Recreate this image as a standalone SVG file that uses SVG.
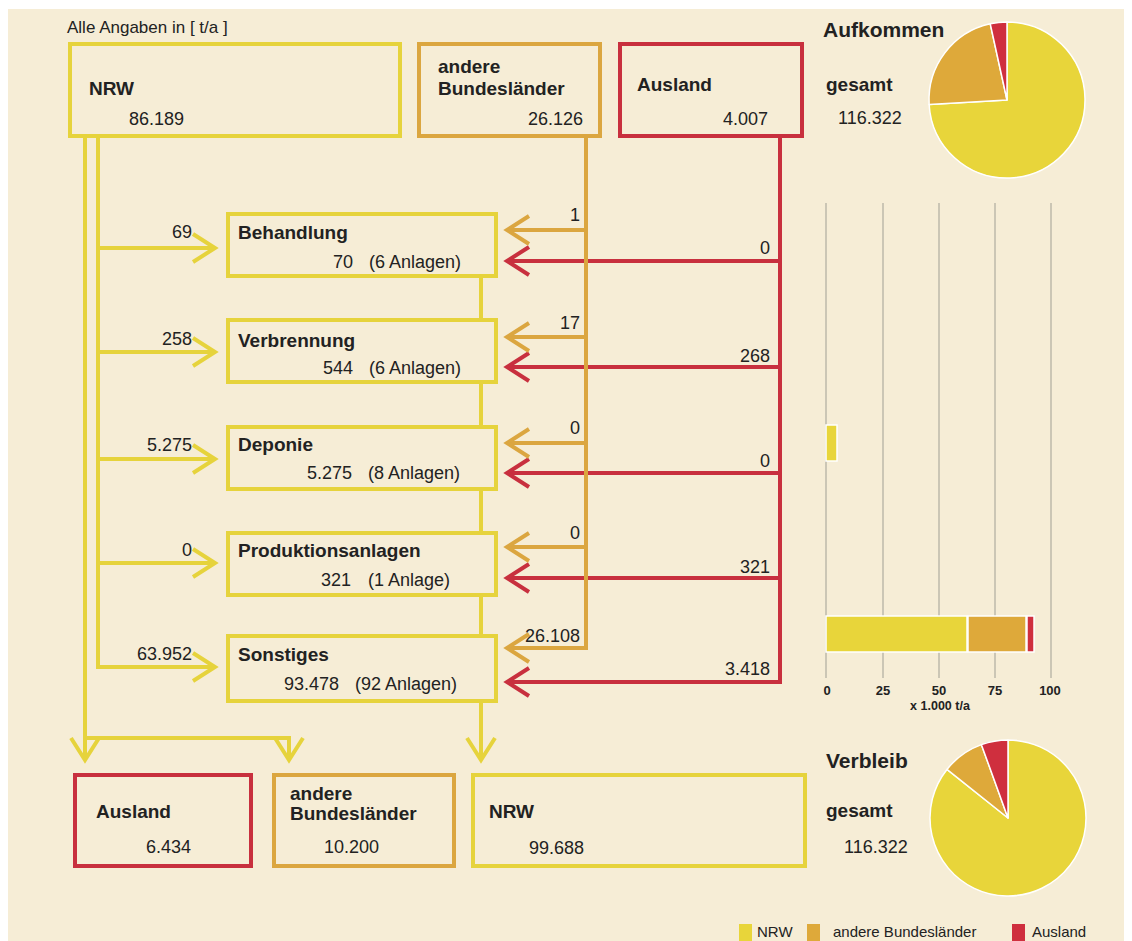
<svg xmlns="http://www.w3.org/2000/svg" width="1132" height="941" viewBox="0 0 1132 941">
<defs>
<style>
text{font-family:"Liberation Sans",Arial,sans-serif;fill:#222;}
.b{font-weight:bold;font-size:19px;}
.n{font-size:18px;}
.e{text-anchor:end;}
.hdr{font-size:17px;}
.ttl{font-weight:bold;font-size:21px;}
.ax{font-size:13px;font-weight:bold;text-anchor:middle;}
.ax2{font-size:12.5px;font-weight:bold;text-anchor:middle;}
.lg{font-size:15px;}
.box{fill:#f6edd6;stroke-width:4;}
.y{stroke:#e6d33c;}
.o{stroke:#dba640;}
.r{stroke:#c8303e;}
.c{fill:none;stroke-width:4;}
.grid{stroke:#bdb8aa;stroke-width:1.5;}
.sl{stroke:#fff;stroke-width:1.5;stroke-linejoin:round;}
</style>
<marker id="ay" markerUnits="userSpaceOnUse" markerWidth="30" markerHeight="34" refX="0" refY="0" viewBox="-26 -17 30 34" orient="auto" overflow="visible"><path d="M-22,-14 L0,0 L-22,14" fill="none" stroke="#e6d33c" stroke-width="4"/></marker>
<marker id="ao" markerUnits="userSpaceOnUse" markerWidth="30" markerHeight="34" refX="0" refY="0" viewBox="-26 -17 30 34" orient="auto" overflow="visible"><path d="M-22,-14 L0,0 L-22,14" fill="none" stroke="#dba640" stroke-width="4"/></marker>
<marker id="ar" markerUnits="userSpaceOnUse" markerWidth="30" markerHeight="34" refX="0" refY="0" viewBox="-26 -17 30 34" orient="auto" overflow="visible"><path d="M-22,-14 L0,0 L-22,14" fill="none" stroke="#c8303e" stroke-width="4"/></marker>
</defs>
<rect x="0" y="0" width="1132" height="941" fill="#ffffff"/>
<rect x="8" y="9" width="1116" height="932" fill="#f6edd6"/>

<text class="hdr" x="67" y="33">Alle Angaben in [ t/a ]</text>

<g id="connectors">
<g class="c r">
<path d="M780,138 V682 H507" marker-end="url(#ar)"/>
<path d="M780,261 H507" marker-end="url(#ar)"/>
<path d="M780,367 H507" marker-end="url(#ar)"/>
<path d="M780,473 H507" marker-end="url(#ar)"/>
<path d="M780,578 H507" marker-end="url(#ar)"/>
</g>
<g class="c o">
<path d="M586,138 V648 H507" marker-end="url(#ao)"/>
<path d="M586,230 H507" marker-end="url(#ao)"/>
<path d="M586,337 H507" marker-end="url(#ao)"/>
<path d="M586,443 H507" marker-end="url(#ao)"/>
<path d="M586,547 H507" marker-end="url(#ao)"/>
</g>
<g class="c y">
<path d="M85,138 V760" marker-end="url(#ay)"/>
<path d="M85,738 H289 V760" marker-end="url(#ay)"/>
<path d="M98,138 V667 H215" marker-end="url(#ay)"/>
<path d="M98,248 H215" marker-end="url(#ay)"/>
<path d="M98,352 H215" marker-end="url(#ay)"/>
<path d="M98,459 H215" marker-end="url(#ay)"/>
<path d="M98,563 H215" marker-end="url(#ay)"/>
<path d="M481,278 V760" marker-end="url(#ay)"/>
</g>
<g id="flow-labels">
<text class="n e" x="192" y="238">69</text>
<text class="n e" x="192" y="345">258</text>
<text class="n e" x="192" y="451">5.275</text>
<text class="n e" x="192" y="556">0</text>
<text class="n e" x="192" y="660">63.952</text>
<text class="n e" x="580" y="221">1</text>
<text class="n e" x="580" y="329">17</text>
<text class="n e" x="580" y="434">0</text>
<text class="n e" x="580" y="539">0</text>
<text class="n e" x="580" y="642">26.108</text>
<text class="n e" x="770" y="254">0</text>
<text class="n e" x="770" y="362">268</text>
<text class="n e" x="770" y="467">0</text>
<text class="n e" x="770" y="573">321</text>
<text class="n e" x="770" y="675">3.418</text>
</g>
</g>

<g id="src-nrw"><rect class="box y" x="70" y="44" width="330" height="92"/><text class="b" x="89" y="95">NRW</text><text class="n" x="129" y="125">86.189</text></g>
<g id="src-bl"><rect class="box o" x="419" y="44" width="181" height="92"/><text class="b" x="438" y="73">andere</text><text class="b" x="438" y="95">Bundesländer</text><text class="n e" x="583" y="125">26.126</text></g>
<g id="src-ausland"><rect class="box r" x="620" y="44" width="182" height="92"/><text class="b" x="637" y="91">Ausland</text><text class="n e" x="768" y="125">4.007</text></g>

<g id="behandlung"><rect class="box y" x="228" y="214" width="268" height="62"/><text class="b" x="238" y="239">Behandlung</text><text class="n e" x="353" y="268">70</text><text class="n" x="369" y="268">(6 Anlagen)</text></g>
<g id="verbrennung"><rect class="box y" x="228" y="320" width="268" height="62"/><text class="b" x="238" y="347">Verbrennung</text><text class="n e" x="353" y="374">544</text><text class="n" x="369" y="374">(6 Anlagen)</text></g>
<g id="deponie"><rect class="box y" x="228" y="427" width="268" height="62"/><text class="b" x="238" y="451">Deponie</text><text class="n e" x="352" y="479">5.275</text><text class="n" x="368" y="479">(8 Anlagen)</text></g>
<g id="produktion"><rect class="box y" x="228" y="533" width="268" height="62"/><text class="b" x="238" y="557">Produktionsanlagen</text><text class="n e" x="351" y="586">321</text><text class="n" x="368" y="586">(1 Anlage)</text></g>
<g id="sonstiges"><rect class="box y" x="228" y="636" width="268" height="65"/><text class="b" x="238" y="661">Sonstiges</text><text class="n e" x="339" y="690">93.478</text><text class="n" x="355" y="690">(92 Anlagen)</text></g>

<g id="dst-ausland"><rect class="box r" x="75" y="775" width="176" height="91"/><text class="b" x="96" y="818">Ausland</text><text class="n" x="146" y="853">6.434</text></g>
<g id="dst-bl"><rect class="box o" x="274" y="775" width="180" height="91"/><text class="b" x="290" y="800">andere</text><text class="b" x="290" y="820">Bundesländer</text><text class="n" x="324" y="853">10.200</text></g>
<g id="dst-nrw"><rect class="box y" x="473" y="775" width="332" height="91"/><text class="b" x="489" y="818">NRW</text><text class="n" x="529" y="854">99.688</text></g>

<g id="aufkommen">
<text class="ttl" x="823" y="37">Aufkommen</text>
<text class="b" x="826" y="91">gesamt</text>
<text class="n" x="838" y="124">116.322</text>
<path class="sl" fill="#e8d53a" d="M1007,100 L1007,22 A78,78 0 1 1 929.13,104.44 Z"/>
<path class="sl" fill="#dea93a" d="M1007,100 L929.13,104.44 A78,78 0 0 1 990.25,23.82 Z"/>
<path class="sl" fill="#cf2f3e" d="M1007,100 L990.25,23.82 A78,78 0 0 1 1007,22 Z"/>
</g>

<g id="barchart">
<line class="grid" x1="826" y1="203" x2="826" y2="678"/>
<line class="grid" x1="883" y1="203" x2="883" y2="678"/>
<line class="grid" x1="939" y1="203" x2="939" y2="678"/>
<line class="grid" x1="995" y1="203" x2="995" y2="678"/>
<line class="grid" x1="1051" y1="203" x2="1051" y2="678"/>
<rect x="826" y="425" width="11" height="36" fill="#e8d53a" stroke="#fff" stroke-width="1.5"/>
<rect x="826" y="616" width="141" height="36" fill="#e8d53a" stroke="#fff" stroke-width="1.5"/>
<rect x="968" y="616" width="58" height="36" fill="#dea93a" stroke="#fff" stroke-width="1.5"/>
<rect x="1027" y="616" width="7" height="36" fill="#cf2f3e" stroke="#fff" stroke-width="1.5"/>
<text class="ax" x="827" y="695">0</text>
<text class="ax" x="883" y="695">25</text>
<text class="ax" x="939" y="695">50</text>
<text class="ax" x="995" y="695">75</text>
<text class="ax" x="1050" y="695">100</text>
<text class="ax2" x="940" y="710">x 1.000 t/a</text>
</g>

<g id="verbleib">
<text class="ttl" x="826" y="768">Verbleib</text>
<text class="b" x="826" y="817">gesamt</text>
<text class="n" x="844" y="853">116.322</text>
<path class="sl" fill="#e8d53a" d="M1008,818 L1008,740 A78,78 0 1 1 946.96,769.44 Z"/>
<path class="sl" fill="#dea93a" d="M1008,818 L946.96,769.44 A78,78 0 0 1 981.43,744.66 Z"/>
<path class="sl" fill="#cf2f3e" d="M1008,818 L981.43,744.66 A78,78 0 0 1 1008,740 Z"/>
</g>

<g id="legend">
<rect x="739" y="924" width="13" height="17" fill="#e8d53a"/>
<text class="lg" x="757" y="937">NRW</text>
<rect x="807" y="924" width="13" height="17" fill="#dea93a"/>
<text class="lg" x="833" y="937">andere Bundesländer</text>
<rect x="1012" y="924" width="13" height="17" fill="#cf2f3e"/>
<text class="lg" x="1032" y="937">Ausland</text>
</g>
</svg>
